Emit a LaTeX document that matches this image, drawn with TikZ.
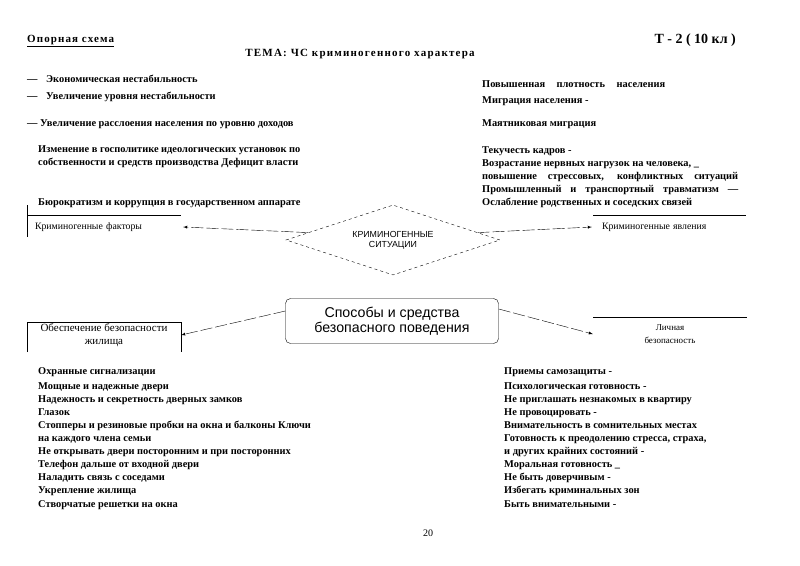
\documentclass[tikz,border=0pt]{standalone}
\usepackage{fontspec}
\setmainfont{Liberation Serif}
\setsansfont{Liberation Sans}
\usetikzlibrary{shapes.geometric}

\tikzset{
  item/.style={anchor=base west, inner sep=0pt, font=\bfseries\fontsize{10.4}{12}\selectfont},
  capt/.style={font=\fontsize{9.8}{11}\selectfont},
  link/.style={-latex, dash pattern=on 12pt off 3pt},
}

\begin{document}
\begin{tikzpicture}[x=1pt, y=-1pt]
  \useasboundingbox (0,0) rectangle (800,565);

  % heading
  \node[item, font=\bfseries\fontsize{11}{13}\selectfont\addfontfeature{LetterSpace=10}] (ref) at (27,42) {\underline{Опорная схема}};
  \node[item, anchor=base east, font=\bfseries\fontsize{14}{16}\selectfont] (grade) at (736,43) {Т - 2 ( 10 кл )};
  \node[item, anchor=base, font=\bfseries\fontsize{11}{13}\selectfont\addfontfeature{LetterSpace=11}] (theme) at (360,56) {ТЕМА: ЧС криминогенного характера};

  % factors
  \node[item] (f1) at (27,82) {\makebox[19pt][l]{—}Экономическая нестабильность};
  \node[item] (f2) at (27,99) {\makebox[19pt][l]{—}Увеличение уровня нестабильности};
  \node[item] (f3) at (27,126) {— Увеличение расслоения населения по уровню доходов};
  \node[item] (f4) at (38,152) {Изменение в госполитике идеологических установок по};
  \node[item] (f5) at (38,165) {собственности и средств производства Дефицит власти};
  \node[item] (f6) at (38,205) {Бюрократизм и коррупция в государственном аппарате};

  % phenomena
  \node[item] (p1) at (482,87) {\makebox[183pt][s]{Повышенная плотность населения}};
  \node[item] (p2) at (482,103) {Миграция населения -};
  \node[item] (p3) at (482,126) {Маятниковая миграция};
  \node[item] (p4) at (482,153) {Текучесть кадров -};
  \node[item] (p5) at (482,166) {Возрастание нервных нагрузок на человека, \_};
  \node[item] (p6) at (482,179) {\makebox[256pt][s]{повышение стрессовых, конфликтных ситуаций}};
  \node[item] (p7) at (482,192) {\makebox[256pt][s]{Промышленный и транспортный травматизм —}};
  \node[item] (p8) at (482,205) {Ослабление родственных и соседских связей};

  % criminogenic block
  \draw (27,205) -- (27,237);
  \draw (27,215) -- (181,215);
  \node[capt, text width=140pt, inner xsep=8pt] (fac) at (105,227) {Криминогенные факторы};
  \draw (593,215) -- (746,215);
  \node[capt, text width=140pt, inner xsep=10pt] (phen) at (672,227) {Криминогенные явления};

  \node[diamond, draw, dashed, inner sep=0pt, aspect=3, minimum width=214pt, minimum height=70pt,
        align=center, font=\sffamily\fontsize{8.8}{10}\selectfont] (sit) at (393,240) {КРИМИНОГЕННЫЕ\\СИТУАЦИИ};
  \draw[link] (sit.175) -- (fac.east);
  \draw[link] (sit.5) -- (phen.west);

  % safety block
  \node[draw, rounded corners=5pt, minimum width=213pt, minimum height=45pt, align=center,
        font=\sffamily\fontsize{14.2}{15}\selectfont] (safe) at (392,321) {Способы и средства\\безопасного поведения};

  \draw (27,352) -- (27,322) -- (181,322) -- (181,352);
  \node[capt, align=center, minimum width=154pt, font=\fontsize{11}{13}\selectfont] (home) at (104,335) {Обеспечение безопасности\\жилища};
  \draw (593,317) -- (747,317);
  \node[capt, align=center, minimum width=154pt, font=\fontsize{9}{13}\selectfont] (pers) at (670,334) {Личная\\безопасность};
  \draw[link] ([yshift=10pt]safe.west) -- (home.east);
  \draw[link] ([yshift=12pt]safe.east) -- (pers.west);

  % lists
  \node[item] (h0) at (38,374) {Охранные сигнализации};
  \foreach \t [count=\i] in {Мощные и надежные двери, Надежность и секретность дверных замков, Глазок,
      Стопперы и резиновые пробки на окна и балконы Ключи, на каждого члена семьи,
      Не открывать двери посторонним и при посторонних, Телефон дальше от входной двери,
      Наладить связь с соседами, Укрепление жилища, Створчатые решетки на окна}
    \node[item] (h\i) at (38,376+13.1*\i) {\t};

  \node[item] (s0) at (504,374) {Приемы самозащиты -};
  \foreach \t [count=\i] in {Психологическая готовность -, Не приглашать незнакомых в квартиру, Не провоцировать -,
      Внимательность в сомнительных местах, {Готовность к преодолению стресса, страха,},
      и других крайних состояний -, Моральная готовность \_, Не быть доверчивым -,
      Избегать криминальных зон, Быть внимательными -}
    \node[item] (s\i) at (504,376+13.1*\i) {\t};

  \node[capt, anchor=base, font=\fontsize{10}{12}\selectfont] (page) at (428,536) {20};
\end{tikzpicture}
\end{document}
